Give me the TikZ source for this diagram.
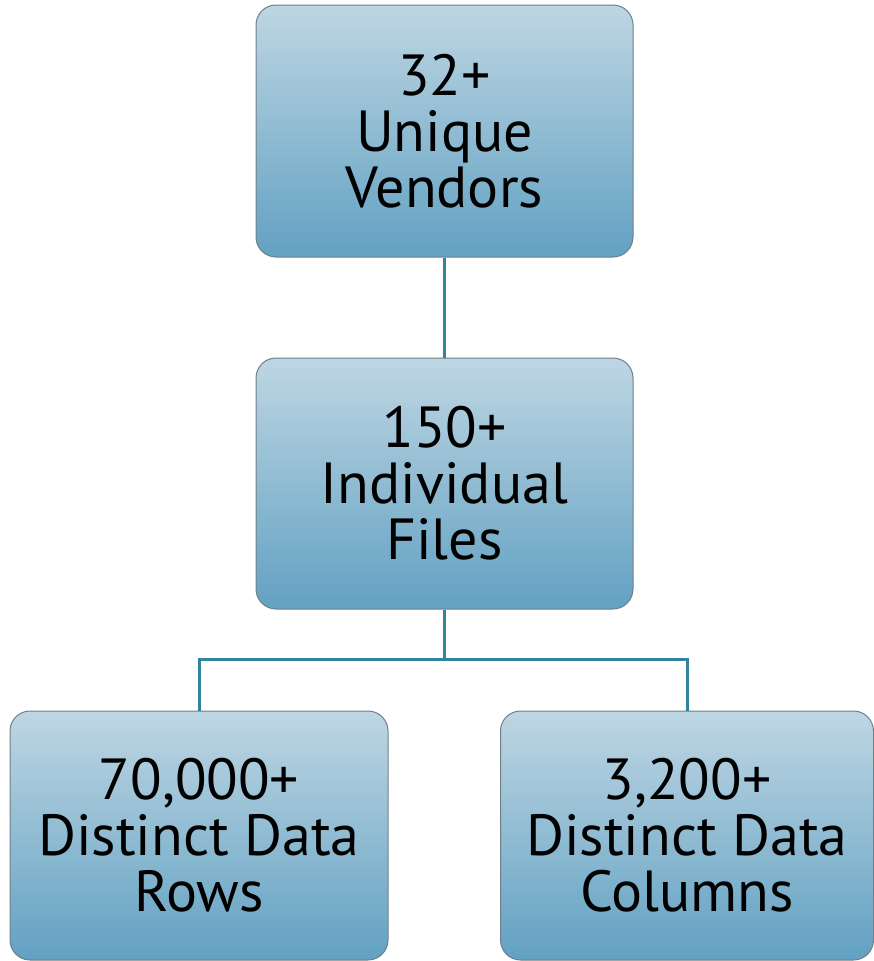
\documentclass[tikz,border=0pt]{standalone}
\usepackage{fontspec}
\setmainfont{PT Sans}
\definecolor{boxtop}{HTML}{BED6E3}
\definecolor{boxbot}{HTML}{62A1C2}
\definecolor{boxedge}{HTML}{6F7F88}
\definecolor{linkcol}{HTML}{31849B}
\tikzset{
  card/.style={rectangle, rounded corners=20pt, draw=boxedge, line width=1pt,
    top color=boxtop, bottom color=boxbot, align=center, inner sep=0pt,
    font=\fontsize{58}{56}\selectfont, text=black},
  link/.style={draw=linkcol, line width=3pt}
}
\begin{document}
\begin{tikzpicture}[x=1pt,y=-1pt]
\useasboundingbox (0,0) rectangle (874,961);
\node[card, minimum width=377pt, minimum height=252pt] (top) at (444.5,131) {32+\\Unique\\Vendors};
\node[card, minimum width=377pt, minimum height=251pt] (mid) at (444.5,483.5) {150+\\Individual\\Files};
\node[card, minimum width=378pt, minimum height=249pt] (bl) at (199,835.5) {70,000+\\Distinct Data\\Rows};
\node[card, minimum width=373pt, minimum height=249pt] (br) at (687,835.5) {3,200+\\Distinct Data\\Columns};
\coordinate (hub) at (444.5,659);
\draw[link] (top.south) -- (mid.north);
\draw[link] (mid.south) -- (hub);
\draw[link] (hub) -| (bl.north);
\draw[link] (hub) -| (br.north);
\end{tikzpicture}
\end{document}
